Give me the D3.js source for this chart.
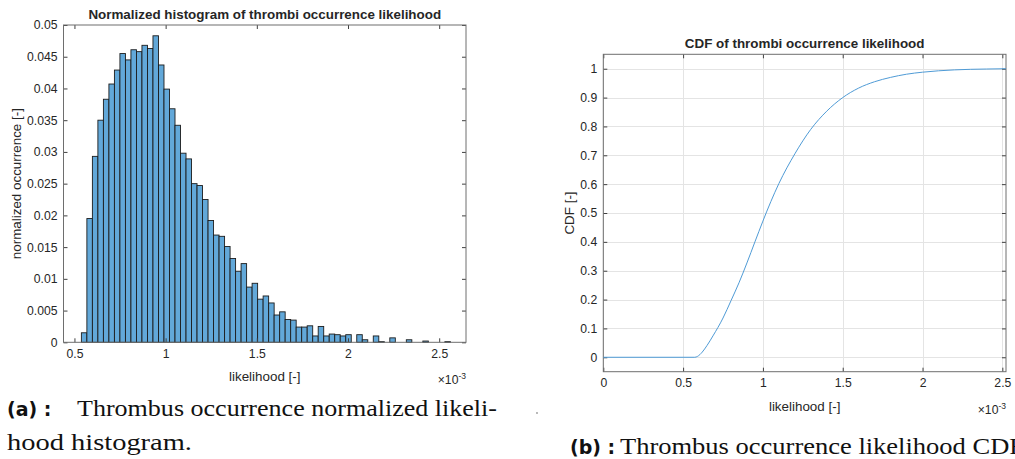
<!DOCTYPE html>
<html>
<head>
<meta charset="utf-8">
<script src="https://cdn.jsdelivr.net/npm/d3@7"></script>
<style>
  body { margin: 0; background: #fff; }
  svg { display: block; }
  .mat text { font-family: "Liberation Sans", Arial, Helvetica, sans-serif; fill: #262626; }
</style>
</head>
<body>
<svg id="fig" width="1015" height="459"></svg>
<script>
// Likelihood values are in units of 1e-3.
// Histogram: equal-width bins starting at binStart.
const binStart = 0.538;
const binWidth = 0.0302;
const binHeights = [
  0.0015, 0.0195, 0.0293, 0.0350, 0.0383, 0.0407, 0.0429, 0.0455, 0.0445, 0.0461,
  0.0458, 0.0468, 0.0463, 0.0483, 0.0437, 0.0399, 0.0368, 0.0342, 0.0298, 0.0289,
  0.0250, 0.0247, 0.0225, 0.0192, 0.0169, 0.0167, 0.0151, 0.0132, 0.0112, 0.0124,
  0.0087, 0.0093, 0.0068, 0.0073, 0.0062, 0.0043, 0.0048, 0.0036, 0.0035, 0.0024,
  0.0024, 0.0026, 0.0010, 0.0025, 0.0010, 0.0013, 0.0012, 0.0010, 0.0012, 0.0000,
  0.0012, 0.0004, 0.0000, 0.0010, 0.0001, 0.0000, 0.0007, 0.0000, 0.0000, 0.0004,
  0.0000, 0.0000, 0.0002, 0.0000, 0.0000, 0.0000, 0.0001
];
const histXTicks = [0.5, 1, 1.5, 2, 2.5];
const histYTicks = [0, 0.005, 0.01, 0.015, 0.02, 0.025, 0.03, 0.035, 0.04, 0.045, 0.05];
const histYLabels = ["0", "0.005", "0.01", "0.015", "0.02", "0.025", "0.03", "0.035", "0.04", "0.045", "0.05"];

// Cumulative distribution of the likelihood.
const cdfX = [0, 0.573, 0.59, 0.62, 0.65, 0.687, 0.75, 0.80, 0.85, 0.90, 0.95, 1.00,
              1.05, 1.10, 1.20, 1.30, 1.40, 1.50, 1.60, 1.70, 1.80, 1.90, 2.00, 2.20, 2.40, 2.523];
const cdfY = [0, 0, 0.003, 0.018, 0.041, 0.074, 0.136, 0.196, 0.258, 0.327, 0.400, 0.472,
              0.540, 0.602, 0.705, 0.790, 0.853, 0.900, 0.933, 0.955, 0.970, 0.981, 0.988, 0.996, 0.999, 1.0];
const cdfXTicks = [0, 0.5, 1, 1.5, 2, 2.5];
const cdfYTicks = [0, 0.1, 0.2, 0.3, 0.4, 0.5, 0.6, 0.7, 0.8, 0.9, 1];

const svg = d3.select("#fig");
const fmt = d => String(d);
const TICK_FS = 12.2, LABEL_FS = 13.4;

// Draws a MATLAB-style box with inward ticks on all four sides.
function drawAxes(g, x, y, xTicks, yTicks, yFormat, opts) {
  const [x0, x1] = x.range();
  const [y0, y1] = y.range(); // y0 bottom, y1 top
  const tick = 4;

  if (opts.grid) {
    const grid = g.append("g").attr("stroke", "#e4e4e4").attr("stroke-width", 1);
    grid.selectAll("line.gx").data(xTicks).join("line")
      .attr("x1", d => Math.round(x(d)) + 0.5).attr("x2", d => Math.round(x(d)) + 0.5)
      .attr("y1", y1).attr("y2", y0);
    grid.selectAll("line.gy").data(yTicks).join("line")
      .attr("y1", d => Math.round(y(d)) + 0.5).attr("y2", d => Math.round(y(d)) + 0.5)
      .attr("x1", x0).attr("x2", x1);
  }

  const layer = g.append("g").attr("class", "mat");

  const bottom = layer.append("g").attr("transform", `translate(0,${y0})`)
    .call(d3.axisBottom(x).tickValues(xTicks).tickFormat(fmt)
      .tickSizeInner(-tick).tickSizeOuter(0).tickPadding(7));
  const top = layer.append("g").attr("transform", `translate(0,${y1})`)
    .call(d3.axisTop(x).tickValues(xTicks).tickFormat("")
      .tickSizeInner(-tick).tickSizeOuter(0));
  const left = layer.append("g").attr("transform", `translate(${x0},0)`)
    .call(d3.axisLeft(y).tickValues(yTicks).tickFormat(yFormat)
      .tickSizeInner(-tick).tickSizeOuter(0).tickPadding(6));
  const right = layer.append("g").attr("transform", `translate(${x1},0)`)
    .call(d3.axisRight(y).tickValues(yTicks).tickFormat("")
      .tickSizeInner(-tick).tickSizeOuter(0));

  [bottom, top, left, right].forEach(a => {
    a.select(".domain").remove();
    a.selectAll("line").attr("stroke", "#404040").attr("stroke-width", 1);
    a.selectAll("text").attr("font-size", TICK_FS).attr("fill", "#333");
  });

  layer.append("rect")
    .attr("x", x0).attr("y", y1)
    .attr("width", x1 - x0).attr("height", y0 - y1)
    .attr("fill", "none").attr("stroke", "#6e6e6e").attr("stroke-width", 1);

  // titles and labels
  const cx = (x0 + x1) / 2;
  layer.append("text").attr("x", cx).attr("y", y1 - 6)
    .attr("text-anchor", "middle").attr("font-size", LABEL_FS).attr("font-weight", "bold")
    .attr("fill", "#111").text(opts.title);
  layer.append("text").attr("x", cx).attr("y", y0 + 39)
    .attr("text-anchor", "middle").attr("font-size", LABEL_FS).attr("fill", "#333")
    .text(opts.xlabel);
  layer.append("text")
    .attr("transform", `translate(${opts.ylabelX},${(y0 + y1) / 2}) rotate(-90)`)
    .attr("text-anchor", "middle").attr("font-size", LABEL_FS).attr("fill", "#333")
    .text(opts.ylabel);

  // exponent marker
  const ex = layer.append("text").attr("x", x1).attr("y", y0 + 42)
    .attr("text-anchor", "end").attr("font-size", TICK_FS).attr("fill", "#333");
  ex.append("tspan").text("\u00d710");
  ex.append("tspan").attr("dy", -5).attr("font-size", 8.5).text("-3");
}

// ---------- (a) histogram ----------
const hx = d3.scaleLinear().domain([0.44, 2.647]).range([63.5, 466]);
const hy = d3.scaleLinear().domain([0, 0.05]).range([342.3, 25]);
const hg = svg.append("g");

const bins = binHeights.map((h, i) => ({ x0: binStart + i * binWidth, x1: binStart + (i + 1) * binWidth, h }));
hg.append("g").selectAll("rect").data(bins.filter(b => b.h > 0)).join("rect")
  .attr("x", d => hx(d.x0))
  .attr("width", d => hx(d.x1) - hx(d.x0))
  .attr("y", d => hy(d.h))
  .attr("height", d => hy(0) - hy(d.h))
  .attr("fill", "#62a8d9")
  .attr("stroke", "#1c1c1c")
  .attr("stroke-width", 0.9);

drawAxes(hg, hx, hy, histXTicks, histYTicks, (d, i) => histYLabels[i], {
  title: "Normalized histogram of thrombi occurrence likelihood",
  xlabel: "likelihood [-]",
  ylabel: "normalized occurrence [-]",
  ylabelX: 21,
  grid: false
});

// ---------- (b) CDF ----------
const cx = d3.scaleLinear().domain([0, 2.523]).range([603.3, 1006]);
const cy = d3.scaleLinear().domain([-0.05, 1.05]).range([371.7, 54.3]);
const cg = svg.append("g");

drawAxes(cg, cx, cy, cdfXTicks, cdfYTicks, fmt, {
  title: "CDF of thrombi occurrence likelihood",
  xlabel: "likelihood [-]",
  ylabel: "CDF [-]",
  ylabelX: 574,
  grid: true
});

const cdfPts = cdfX.map((v, i) => [v, cdfY[i]]);
cg.append("path")
  .datum(cdfPts)
  .attr("fill", "none")
  .attr("stroke", "#4f9bd6")
  .attr("stroke-width", 1)
  .attr("d", d3.line().x(d => cx(d[0])).y(d => cy(d[1])).curve(d3.curveMonotoneX));

// ---------- sub-figure captions ----------
const serif = "Liberation Serif, Times New Roman, serif";
const boldSans = "DejaVu Sans, Liberation Sans, sans-serif";
const cap = svg.append("g");

function captionLine(x, y, label, body, bodyX, bodyWidth) {
  if (label) {
    cap.append("text").attr("x", x).attr("y", y)
      .attr("font-family", boldSans).attr("font-weight", "bold").attr("font-size", 19)
      .attr("fill", "#111").text(label);
  }
  const t = cap.append("text").attr("x", bodyX).attr("y", y)
    .attr("font-family", serif).attr("font-size", 23).attr("fill", "#111").text(body);
  if (bodyWidth) t.attr("textLength", bodyWidth).attr("lengthAdjust", "spacingAndGlyphs");
}

captionLine(7, 416, "(a) :", "Thrombus occurrence normalized likeli-", 77, 420);
captionLine(7, 450, null, "hood histogram.", 7, 185);
captionLine(570, 454, "(b) :", "Thrombus occurrence likelihood CDF", 620, 404);

// stray mark left of panel (b)
cap.append("circle").attr("cx", 537).attr("cy", 413).attr("r", 0.9).attr("fill", "#999");
</script>
</body>
</html>
